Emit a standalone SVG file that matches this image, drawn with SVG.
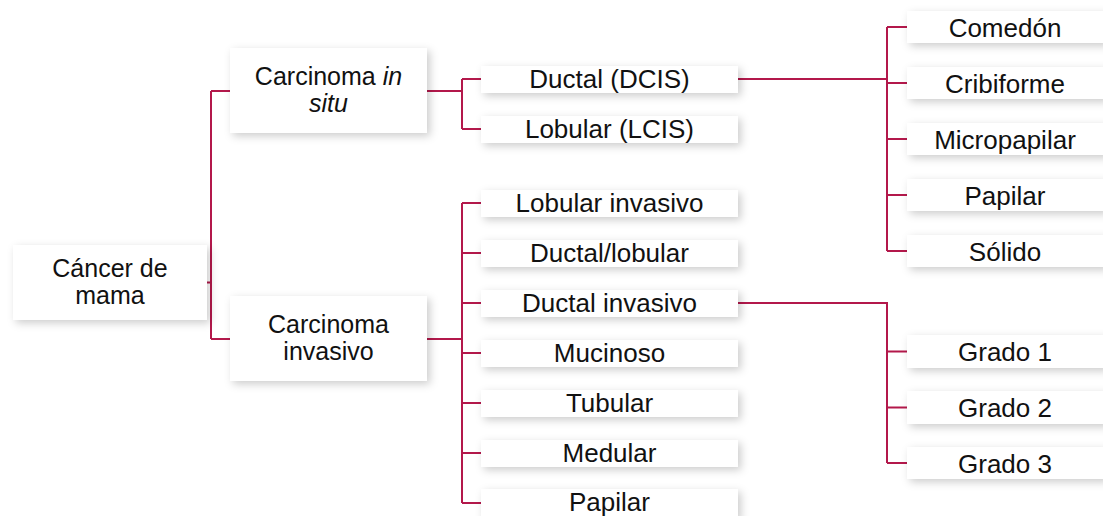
<svg xmlns="http://www.w3.org/2000/svg" width="1103" height="516" viewBox="0 0 1103 516">
<defs>
<filter id="sh" x="-20%" y="-60%" width="140%" height="220%">
<feDropShadow dx="3" dy="3" stdDeviation="4" flood-color="#000" flood-opacity="0.2"/>
</filter>
<style>
.box{fill:#fff;filter:url(#sh)}
text{font-family:"Liberation Sans",Arial,sans-serif;font-size:26px;fill:#111;text-anchor:middle}
.t2{font-size:25px}
.c{fill:none;stroke:#B3184B;stroke-width:2}
</style>
</defs>
<rect width="1103" height="516" fill="#fff"/>
<g id="connectors">
<path class="c" d="M207 282.5H211M211 91V339M211 91H230M211 339H230"/>
<path class="c" d="M427 91H462M462 79V129M462 79H481M462 129H481"/>
<path class="c" d="M738 79H887M887 27V251M887 27H907M887 83H907M887 139H907M887 195H907M887 251H907"/>
<path class="c" d="M427 339H462M462 203V503M462 203H481M462 253H481M462 303H481M462 353H481M462 403H481M462 453H481M462 503H481"/>
<path class="c" d="M738 303H887V463M887 351.5H907M887 407.5H907M887 463H907"/>
</g>
<g id="n-cancer"><rect class="box" x="13" y="245" width="194" height="75"/><text class="t2" x="110" y="277">Cáncer de</text><text class="t2" x="110" y="304">mama</text></g>
<g id="n-insitu"><rect class="box" x="230" y="48" width="197" height="85"/><text class="t2" x="328.5" y="85">Carcinoma <tspan font-style="italic">in</tspan></text><text class="t2" x="328.5" y="112" font-style="italic">situ</text></g>
<g id="n-invasivo"><rect class="box" x="230" y="296" width="197" height="85"/><text class="t2" x="328.5" y="333">Carcinoma</text><text class="t2" x="328.5" y="360">invasivo</text></g>
<g id="n-dcis"><rect class="box" x="481" y="66" width="257" height="27"/><text x="609.5" y="88">Ductal (DCIS)</text></g>
<g id="n-lcis"><rect class="box" x="481" y="116" width="257" height="27"/><text x="609.5" y="138">Lobular (LCIS)</text></g>
<g id="n-lobinv"><rect class="box" x="481" y="190" width="257" height="27"/><text x="609.5" y="212">Lobular invasivo</text></g>
<g id="n-ductlob"><rect class="box" x="481" y="240" width="257" height="27"/><text x="609.5" y="262">Ductal/lobular</text></g>
<g id="n-ductinv"><rect class="box" x="481" y="290" width="257" height="27"/><text x="609.5" y="312">Ductal invasivo</text></g>
<g id="n-mucinoso"><rect class="box" x="481" y="340" width="257" height="27"/><text x="609.5" y="362">Mucinoso</text></g>
<g id="n-tubular"><rect class="box" x="481" y="390" width="257" height="27"/><text x="609.5" y="412">Tubular</text></g>
<g id="n-medular"><rect class="box" x="481" y="440" width="257" height="27"/><text x="609.5" y="462">Medular</text></g>
<g id="n-papilar-inv"><rect class="box" x="481" y="489" width="257" height="30"/><text x="609.5" y="511">Papilar</text></g>
<g id="n-comedon"><rect class="box" x="907" y="11" width="200" height="32"/><text x="1005" y="36.5">Comedón</text></g>
<g id="n-cribiforme"><rect class="box" x="907" y="67" width="200" height="32"/><text x="1005" y="92.5">Cribiforme</text></g>
<g id="n-micropapilar"><rect class="box" x="907" y="123" width="200" height="32"/><text x="1005" y="148.5">Micropapilar</text></g>
<g id="n-papilar"><rect class="box" x="907" y="179" width="200" height="32"/><text x="1005" y="204.5">Papilar</text></g>
<g id="n-solido"><rect class="box" x="907" y="235" width="200" height="32"/><text x="1005" y="260.5">Sólido</text></g>
<g id="n-grado1"><rect class="box" x="907" y="335" width="200" height="33"/><text x="1005" y="361">Grado 1</text></g>
<g id="n-grado2"><rect class="box" x="907" y="391" width="200" height="33"/><text x="1005" y="417">Grado 2</text></g>
<g id="n-grado3"><rect class="box" x="907" y="447" width="200" height="32"/><text x="1005" y="472.5">Grado 3</text></g>
</svg>
